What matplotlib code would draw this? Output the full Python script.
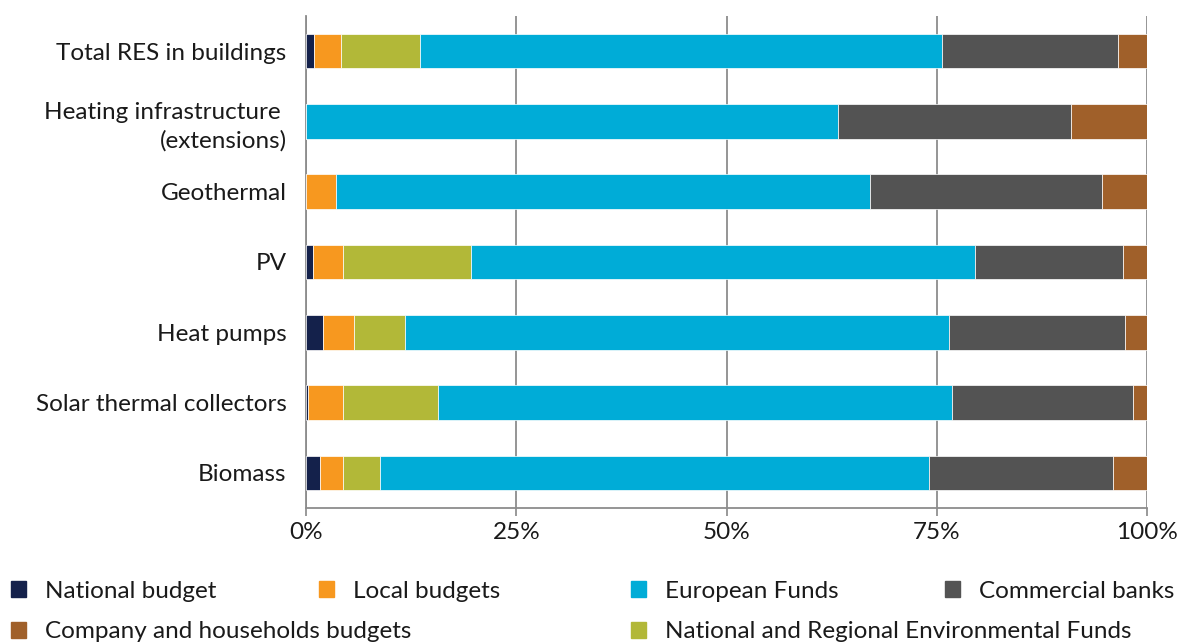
import numpy as np
import matplotlib
matplotlib.use('Agg')
import matplotlib.pyplot as plt
import matplotlib.patches as mpatches
import matplotlib.ticker as tck

plt.rcParams['font.family'] = ['Lato', 'DejaVu Sans']

# Categorias (de arriba hacia abajo)
categories = ['Total RES in buildings', 'Heating infrastructure \n(extensions)',
              'Geothermal', 'PV', 'Heat pumps', 'Solar thermal collectors', 'Biomass']

# Participacion de cada fuente (%)
national_budget = [0.9, 0.0, 0.0, 0.8, 2.0, 0.2, 1.7]
local_budgets = [3.3, 0.0, 3.6, 3.6, 3.7, 4.2, 2.7]
env_funds = [9.4, 0.0, 0.0, 15.2, 6.1, 11.3, 4.4]
european_funds = [62.0, 63.2, 63.5, 59.9, 64.7, 61.1, 65.3]
commercial_banks = [20.9, 27.8, 27.6, 17.6, 20.9, 21.5, 21.8]
company_budgets = [3.5, 9.0, 5.3, 2.9, 2.6, 1.7, 4.1]

series = [
    ('National budget', national_budget, '#14214b'),
    ('Local budgets', local_budgets, '#f7981f'),
    ('National and Regional Environmental Funds', env_funds, '#b2b838'),
    ('European Funds', european_funds, '#00acd7'),
    ('Commercial banks', commercial_banks, '#535353'),
    ('Company and households budgets', company_budgets, '#a0602a'),
]

FS = 17.5
W, H = 1187, 643
fig = plt.figure(figsize=(W / 100, H / 100), dpi=100)
ax = fig.add_axes([306 / W, 1 - 508 / H, (1147 - 306) / W, 492 / H])

y = np.arange(len(categories))
left = np.zeros(len(categories))
handles = {}
for name, vals, color in series:
    vals = np.array(vals)
    ax.barh(y, vals, left=left, height=0.49, color=color,
            edgecolor='white', linewidth=0.5, zorder=3)
    left += vals
    handles[name] = mpatches.Patch(color=color, label=name)

ax.set_ylim(len(categories) - 0.5, -0.5)
ax.set_xlim(0, 100)
ax.set_yticks(y)
ax.set_yticklabels(categories, fontsize=FS, color='#1a1a1a', linespacing=1.4)
ax.set_xticks([0, 25, 50, 75, 100])
ax.xaxis.set_major_formatter(tck.FuncFormatter(lambda v, p: f'{v:.0f}%'))
ax.tick_params(axis='x', labelsize=FS, colors='#888888', labelcolor='#1a1a1a',
               length=6, width=1.2, pad=4)
ax.tick_params(axis='y', length=0, pad=14)
ax.grid(axis='x', color='#8c8c8c', linewidth=1.3, zorder=0)
for s in ['top', 'right']:
    ax.spines[s].set_visible(False)
for s in ['left', 'bottom']:
    ax.spines[s].set_color('#8c8c8c')
    ax.spines[s].set_linewidth(1.3)

# Leyenda en columnas separadas
columns = [
    (11, ['National budget', 'Company and households budgets']),
    (319, ['Local budgets']),
    (631, ['European Funds', 'National and Regional Environmental Funds']),
    (945, ['Commercial banks']),
]
for xpos, names in columns:
    leg = fig.legend(handles=[handles[n] for n in names], loc='upper left',
                     bbox_to_anchor=(xpos / W, 1 - 581 / H), frameon=False,
                     fontsize=FS, borderpad=0, borderaxespad=0,
                     handlelength=0.63, handleheight=0.63, handletextpad=0.75,
                     labelspacing=0.8)
    for t in leg.get_texts():
        t.set_color('#1a1a1a')

fig.savefig('out.png', dpi=100)
